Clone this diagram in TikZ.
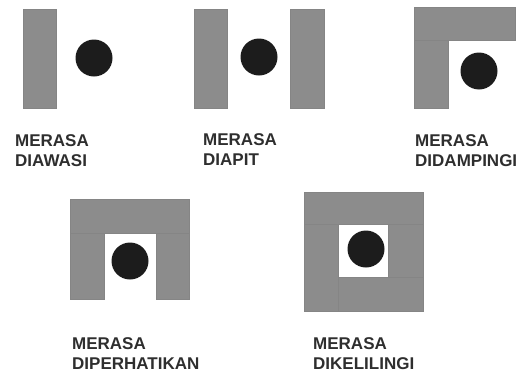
\documentclass[tikz,border=0pt]{standalone}
\usepackage{fontspec}
\setmainfont{Liberation Sans}
\definecolor{wallgray}{HTML}{8C8C8C}
\definecolor{wallline}{HTML}{858585}
\definecolor{dotblack}{HTML}{1C1C1C}
\definecolor{capgray}{HTML}{2E2E2E}
\tikzset{
  wall/.style={fill=wallgray,draw=wallline,line width=0.4pt},
  person/.style={circle,fill=dotblack,minimum size=37pt,inner sep=0pt},
  caption/.style={anchor=base west,align=left,inner sep=0pt,text=capgray,
    font=\bfseries\fontsize{17}{20}\selectfont}
}

\begin{document}
\begin{tikzpicture}[x=1pt,y=-1pt]
\useasboundingbox (0,0) rectangle (526,375);
% merasa diawasi
\filldraw[wall] (23,9) rectangle (56,108);
\node[person] (p1) at (94,58) {};
\node[caption] (t1) at (15,166) {MERASA\\DIAWASI};
% merasa diapit
\filldraw[wall] (194,9) rectangle (227,108);
\filldraw[wall] (290,9) rectangle (324,108);
\node[person] (p2) at (259,57) {};
\node[caption] (t2) at (203,165) {MERASA\\DIAPIT};
% merasa didampingi
\filldraw[wall] (414,7) rectangle (515,40);
\filldraw[wall] (414,40) rectangle (448,108);
\node[person] (p3) at (479,71) {};
\node[caption] (t3) at (415,166) {MERASA\\DIDAMPINGI};
% merasa diperhatikan
\filldraw[wall] (70,199) rectangle (189,233);
\filldraw[wall] (70,233) rectangle (104,299);
\filldraw[wall] (156,233) rectangle (189,299);
\node[person] (p4) at (130,261) {};
\node[caption] (t4) at (72,369) {MERASA\\DIPERHATIKAN};
% merasa dikelilingi
\filldraw[wall] (304,192) rectangle (423,224);
\filldraw[wall] (388,224) rectangle (423,277);
\filldraw[wall] (338,277) rectangle (423,311);
\filldraw[wall] (304,224) rectangle (338,311);
\node[person] (p5) at (366,249) {};
\node[caption] (t5) at (313,369) {MERASA\\DIKELILINGI};
\end{tikzpicture}
\end{document}
